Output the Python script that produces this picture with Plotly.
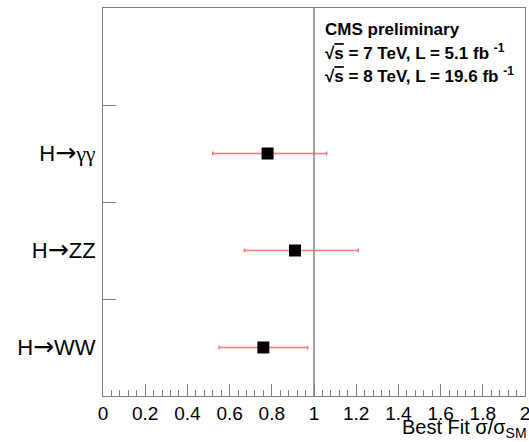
import plotly.graph_objects as go

channels = ["H→WW", "H→ZZ", "H→γγ"]
positions = [0.5, 1.5, 2.5]
best_fit = [0.76, 0.91, 0.78]
err_plus = [0.21, 0.30, 0.28]
err_minus = [0.21, 0.24, 0.26]
sm_value = 1.0
divider_ticks = [1, 2, 3]
info_lines = [
    "<b>CMS preliminary</b>",
    "<b>√<span style='text-decoration:overline'>s</span> = 7 TeV, L = 5.1 fb <sup>-1</sup></b>",
    "<b>√<span style='text-decoration:overline'>s</span> = 8 TeV, L = 19.6 fb <sup>-1</sup></b>",
]

FONT = "Liberation Sans, Arial, Helvetica, sans-serif"
AXC = "#7f7f7f"


def fmt_label(s):
    s = s.replace("→", "<span style='font-family:DejaVu Sans;font-size:25px'>→</span>")
    s = s.replace("γ", "<span style='font-family:Liberation Serif'>γ</span>")
    return s


fig = go.Figure()
fig.add_trace(go.Scatter(
    x=best_fit, y=positions, mode="markers",
    marker=dict(symbol="square", size=12, color="black"),
    error_x=dict(type="data", symmetric=False, array=err_plus, arrayminus=err_minus,
                 color="#ff7878", thickness=1.5, width=2),
    showlegend=False,
))

fig.add_shape(type="line", xref="x", yref="paper", x0=sm_value, x1=sm_value, y0=0, y1=1,
              line=dict(color="#808080", width=1.5))

fig.update_layout(
    width=529, height=442,
    margin=dict(l=103, r=4, t=8, b=46),
    paper_bgcolor="white", plot_bgcolor="white",
    font=dict(family=FONT, color="black"),
    xaxis=dict(range=[0, 2], dtick=0.2, tick0=0, ticks="inside", ticklen=12, tickcolor=AXC,
               showline=True, linecolor=AXC, linewidth=1, mirror=True, showgrid=False,
               zeroline=False, tickfont=dict(size=19, family=FONT), automargin=False,
               ticklabeloverflow="allow",
               minor=dict(dtick=0.04, ticks="inside", ticklen=6, tickcolor=AXC)),
    yaxis=dict(range=[0, 4], tickvals=positions, ticktext=[fmt_label(c) for c in channels],
               ticks="", showline=True, linecolor=AXC, linewidth=1, mirror=True,
               showgrid=False, zeroline=False, automargin=False,
               tickfont=dict(size=22, family=FONT), ticklabelstandoff=2,
               minor=dict(tickvals=divider_ticks, ticks="inside", ticklen=13, tickcolor=AXC,
                          showgrid=False)),
)

ys_px = [29, 52, 75]
for line, ypx in zip(info_lines, ys_px):
    fig.add_annotation(text=line, xref="paper", yref="paper",
                       x=(323 - 103) / 422, y=(396 - ypx) / 388,
                       xanchor="left", yanchor="middle", showarrow=False,
                       font=dict(size=17, family=FONT, color="black"))

fig.add_annotation(text="Best Fit σ/σ<sub>SM</sub>", xref="paper", yref="paper",
                   x=1.01, y=-(428 - 396) / 388, xanchor="right", yanchor="middle",
                   showarrow=False, font=dict(size=20, family=FONT, color="black"))

fig.write_html("out.html", config={"displayModeBar": False},
               post_script="document.body.style.margin='0';")
